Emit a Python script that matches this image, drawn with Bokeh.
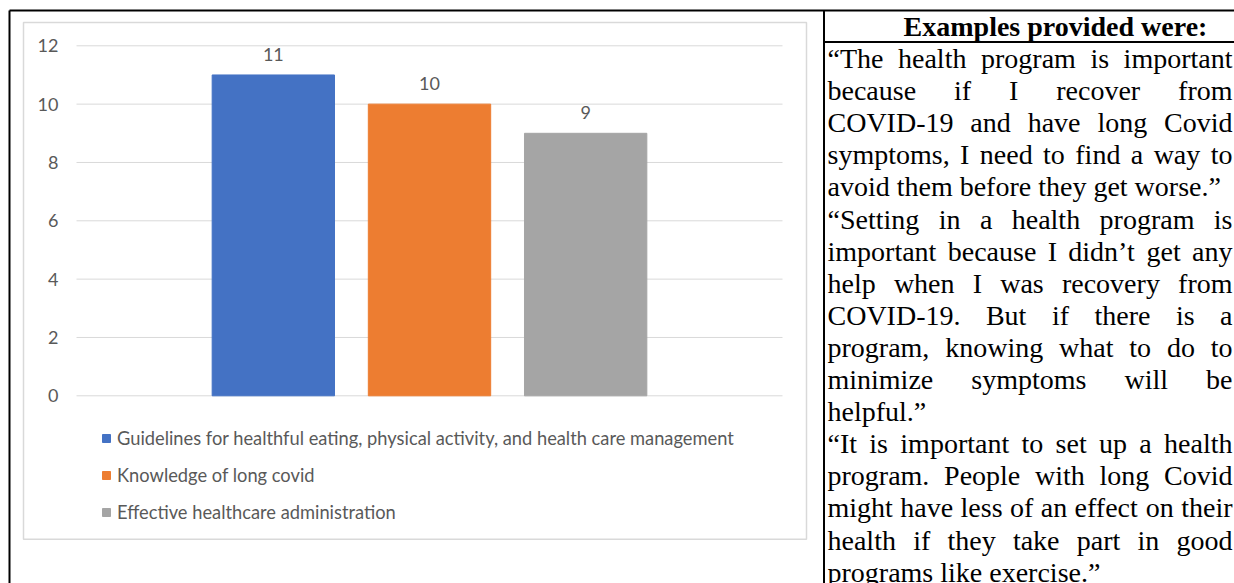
from bokeh.plotting import figure
from bokeh.models import (Range1d, LinearAxis, FixedTicker, Legend, LegendItem,
                          ColumnDataSource)
from bokeh.core.properties import value
from bokeh.embed import file_html
from bokeh.resources import INLINE

# ---------------- data ----------------
categories = [
    "Guidelines for healthful eating, physical activity, and health care management",
    "Knowledge of long covid",
    "Effective healthcare administration",
]
counts = [11, 10, 9]
bar_colors = ["#4472C4", "#ED7D31", "#A5A5A5"]
y_ticks = [0, 2, 4, 6, 8, 10, 12]

header_text = "Examples provided were:"
quote_1 = [
    "\u201cThe health program is important",
    "because if I recover from",
    "COVID-19 and have long Covid",
    "symptoms, I need to find a way to",
    "avoid them before they get worse.\u201d",
]
quote_2 = [
    "\u201cSetting in a health program is",
    "important because I didn\u2019t get any",
    "help when I was recovery from",
    "COVID-19. But if there is a",
    "program, knowing what to do to",
    "minimize symptoms will be",
    "helpful.\u201d",
]
quote_3 = [
    "\u201cIt is important to set up a health",
    "program. People with long Covid",
    "might have less of an effect on their",
    "health if they take part in good",
    "programs like exercise.\u201d",
]

# ---------------- layout ----------------
W, H = 1234, 583
PA_L, PA_R, PA_T, PA_B = 76.0, 782.0, 45.3, 395.3   # chart plot area (page px)
YMAX = 12
GRAY_TXT = "#595959"
CHART_FONT = "Lato"
SERIF = "Liberation Serif"

p = figure(width=W, height=H, x_range=Range1d(0, W), y_range=Range1d(H, 0),
           output_backend="svg", toolbar_location=None,
           x_axis_type=None, y_axis_type=None, min_border=0)
p.outline_line_color = None
p.background_fill_color = "white"
p.border_fill_color = "white"

ux = PA_R - PA_L
uy = (PA_B - PA_T) / YMAX
p.extra_x_ranges = {"cx": Range1d(-PA_L / ux, (W - PA_L) / ux)}
p.extra_y_ranges = {"cy": Range1d(-(H - PA_B) / uy, YMAX + PA_T / uy)}

# chart outer frame (light gray) and table borders (black)
p.quad(left=[23], right=[806], top=[22], bottom=[538.7], fill_color=None,
       line_color="#D9D9D9", line_width=1.5)
p.segment(x0=[9, 9, 823.5, 823.5], y0=[10, 10, 10, 41.5],
          x1=[W, 9, 823.5, W], y1=[10, H, H, 41.5],
          line_color="black", line_width=2)

# gridlines
p.segment(x0=0, x1=1, y0=y_ticks, y1=y_ticks, x_range_name="cx", y_range_name="cy",
          line_color="#D9D9D9", line_width=1)

# bars
n = len(counts)
pitch, bw = 0.2212, 0.1733
xs = [0.5 + (i - (n - 1) / 2) * pitch for i in range(n)]
src = ColumnDataSource(dict(x=xs, top=counts, color=bar_colors,
                            label=[str(c) for c in counts]))
r = p.vbar(x="x", top="top", bottom=0, width=bw, fill_color="color", line_color="color",
           source=src, x_range_name="cx", y_range_name="cy")
p.text(x="x", y="top", text="label", source=src, x_range_name="cx", y_range_name="cy",
       text_align="center", text_baseline="middle", y_offset=-20.5,
       text_font=value(CHART_FONT), text_font_size="18px", text_color=GRAY_TXT)

# y axis
ax = LinearAxis(x_range_name="cx", y_range_name="cy", fixed_location=0,
                ticker=FixedTicker(ticks=y_ticks))
ax.axis_line_color = None
ax.major_tick_line_color = None
ax.minor_tick_line_color = None
ax.major_tick_in = 0
ax.major_tick_out = 0
ax.major_label_standoff = 18
ax.major_label_text_color = GRAY_TXT
ax.major_label_text_font = CHART_FONT
ax.major_label_text_font_size = "18px"
p.add_layout(ax, "left")

# legend
item_h, spacing = 22, 15
leg_h = n * item_h + (n - 1) * spacing
leg_top = 438 - item_h / 2
leg = Legend(items=[LegendItem(label=categories[i], renderers=[r], index=i) for i in range(n)],
             location=(101, H - leg_top - leg_h), orientation="vertical",
             glyph_width=10, glyph_height=10, label_standoff=6, spacing=spacing,
             label_height=item_h, padding=0, margin=0, border_line_color=None,
             background_fill_alpha=0, label_text_font=CHART_FONT,
             label_text_font_size="18.3px", label_text_color=GRAY_TXT)
p.add_layout(leg)

# ---------------- right column text (justified) ----------------
TIMES = {' ': 250, '!': 333, ',': 250, '-': 333, '.': 250, ':': 278, ';': 278,
         '\u201c': 444, '\u201d': 444, '\u2019': 333, '\u2018': 333}
TIMES.update({d: 500 for d in "0123456789"})
TIMES.update(dict(zip("ABCDEFGHIJKLMNOPQRSTUVWXYZ",
    [722, 667, 667, 722, 611, 556, 722, 722, 333, 389, 722, 611, 889, 722, 722, 556,
     722, 667, 556, 611, 722, 722, 944, 722, 722, 611])))
TIMES.update(dict(zip("abcdefghijklmnopqrstuvwxyz",
    [444, 500, 444, 500, 444, 333, 500, 500, 278, 278, 500, 278, 778, 500, 500, 500,
     500, 333, 389, 278, 500, 500, 722, 500, 500, 444])))

FS = 28
TL, TR = 827.0, 1232.0
LINE0, LH = 58.0, 32.1


def tw(s):
    return sum(TIMES.get(ch, 500) for ch in s) * FS / 1000.0


wx, wy, wt = [], [], []
row = 0
for para in (quote_1, quote_2, quote_3):
    for k, line in enumerate(para):
        y = LINE0 + row * LH
        last = k == len(para) - 1
        words = line.split(" ")
        if last or len(words) == 1:
            wx.append(TL); wy.append(y); wt.append(line)
        else:
            total = sum(tw(w) for w in words)
            gap = (TR - TL - total) / (len(words) - 1)
            x = TL
            for w in words:
                wx.append(x); wy.append(y); wt.append(w)
                x += tw(w) + gap
        row += 1

p.text(x=wx, y=wy, text=wt, text_align="left", text_baseline="middle",
       text_font=value(SERIF), text_font_size=f"{FS}px", text_color="black")
p.text(x=[1055], y=[26], text=[header_text], text_align="center", text_baseline="middle",
       text_font=value(SERIF), text_font_size=f"{FS}px", text_font_style="bold",
       text_color="black")

open("out.html", "w").write(file_html(p, INLINE))
